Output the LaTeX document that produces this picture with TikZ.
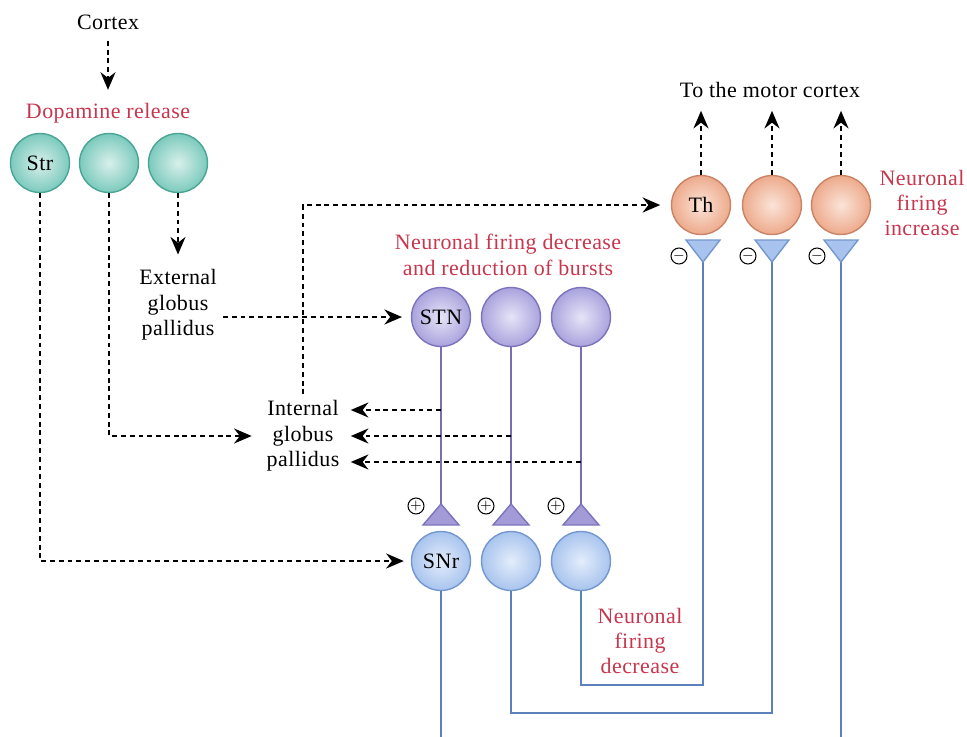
\documentclass[tikz,border=0pt]{standalone}
\usepackage{fontspec}
\setmainfont[LetterSpace=2]{Liberation Serif}
\usetikzlibrary{arrows.meta}

\definecolor{redlab}{HTML}{C8364E}
\definecolor{strout}{HTML}{7CCABD}
\definecolor{strin}{HTML}{D8F0EB}
\definecolor{strline}{HTML}{4AA595}
\definecolor{thout}{HTML}{EDAA8C}
\definecolor{thin}{HTML}{FBE4D8}
\definecolor{thline}{HTML}{C98466}
\definecolor{stnout}{HTML}{A9A3DD}
\definecolor{stnin}{HTML}{E6E4F7}
\definecolor{stnline}{HTML}{7D72BC}
\definecolor{snrout}{HTML}{A8C4EE}
\definecolor{snrin}{HTML}{E4EDFB}
\definecolor{snrline}{HTML}{7497CF}
\definecolor{bluax}{HTML}{5C80BC}
\definecolor{purax}{HTML}{7C6DB3}

\tikzset{
  cell/.style={circle, minimum size=1.18cm, inner sep=0pt, line width=0.8pt},
  strcell/.style={cell, draw=strline, inner color=strin, outer color=strout},
  thcell/.style={cell, draw=thline, inner color=thin, outer color=thout},
  stncell/.style={cell, draw=stnline, inner color=stnin, outer color=stnout},
  snrcell/.style={cell, draw=snrline, inner color=snrin, outer color=snrout},
  flow/.style={line width=1.4pt, dash pattern=on 2.8pt off 2.2pt,
    -{Stealth[length=10pt,width=8.5pt]}},
  redtxt/.style={text=redlab, align=center},
  axonB/.style={draw=bluax, line width=1.3pt},
  axonP/.style={draw=purax, line width=1.3pt},
  plustri/.style={draw=stnline, fill=stnout!85!purax, line width=0.8pt},
  minustri/.style={draw=snrline, fill=snrout, line width=0.8pt},
  sign/.style={circle, draw, line width=0.6pt, minimum size=0.32cm, inner sep=0pt, font=\footnotesize},
}

\begin{document}
\begin{tikzpicture}[x=0.02cm, y=-0.02cm, font=\fontsize{12.5}{14.5}\selectfont]
  \useasboundingbox (0,0) rectangle (967,737);

  % striatum
  \node (cortex) at (108,22) {Cortex};
  \node[redtxt] (dopa) at (108,113) {Dopamine release};
  \node[strcell] (str1) at (40,163) {Str};
  \node[strcell] (str2) at (109,163) {};
  \node[strcell] (str3) at (178,163) {};

  \node[align=center] (gpe) at (178,305) {External\\globus\\pallidus};
  \node[align=center] (gpi) at (303,436) {Internal\\globus\\pallidus};

  % subthalamic nucleus
  \node[redtxt] (stnlab) at (508,255) {Neuronal firing decrease\\and reduction of bursts};
  \node[stncell] (stn1) at (441,317) {STN};
  \node[stncell] (stn2) at (511,317) {};
  \node[stncell] (stn3) at (581,317) {};

  % substantia nigra
  \node[snrcell] (snr1) at (441,561) {SNr};
  \node[snrcell] (snr2) at (511,561) {};
  \node[snrcell] (snr3) at (581,561) {};

  % thalamus
  \node (motor) at (770,90) {To the motor cortex};
  \node[thcell] (th1) at (701,205) {Th};
  \node[thcell] (th2) at (772,205) {};
  \node[thcell] (th3) at (841,205) {};
  \node[redtxt] (thlab) at (922,203) {Neuronal\\firing\\increase};
  \node[redtxt] (snrlab) at (640,641) {Neuronal\\firing\\decrease};

  % synapses
  \coordinate (pt1) at (441,504);
  \coordinate (pt2) at (511,504);
  \coordinate (pt3) at (581,504);
  \coordinate (mt1) at (703,262);
  \coordinate (mt2) at (772,262);
  \coordinate (mt3) at (841,262);
  \coordinate (bot1) at (441,737);
  \coordinate (bot3) at (841,737);

  \draw[axonP] (stn1.south) -- (pt1);
  \draw[axonP] (stn2.south) -- (pt2);
  \draw[axonP] (stn3.south) -- (pt3);
  \foreach \p in {pt1,pt2,pt3}
    \draw[plustri] (\p) -- ++(18,21) -- ++(-36,0) -- cycle;
  \node[sign] (plus1) at (416,506) {$+$};
  \node[sign] (plus2) at (486,506) {$+$};
  \node[sign] (plus3) at (556,506) {$+$};

  \draw[axonB] (snr1.south) -- (bot1);
  \draw[axonB] (snr2.south) |- (772,713) -- (mt2);
  \draw[axonB] (snr3.south) |- (703,685) -- (mt1);
  \draw[axonB] (mt3) -- (bot3);
  \foreach \m in {mt1,mt2,mt3}
    \draw[minustri] (\m) -- ++(-17,-22) -- ++(34,0) -- cycle;
  \node[sign] (minus1) at (679,256) {$-$};
  \node[sign] (minus2) at (748,256) {$-$};
  \node[sign] (minus3) at (817,256) {$-$};

  % dotted pathways
  \draw[flow, shorten <=3pt, shorten >=4pt] (cortex) -- (dopa);
  \draw[flow, shorten >=5pt] (str3.south) -- (gpe.north);
  \draw[flow, shorten >=5pt] (gpe.east |- stn1.west) -- (stn1.west);
  \draw[flow, shorten >=5pt] (str2.south) |- (gpi.west);
  \draw[flow, shorten >=4pt] (str1.south) |- (snr1.west);
  \draw[flow, shorten >=6pt] (gpi.north) |- (th1.west);
  \draw[flow, shorten >=3pt] (441,410) -- (gpi.east |- 0,410);
  \draw[flow, shorten >=3pt] (511,436) -- (gpi.east |- 0,436);
  \draw[flow, shorten >=3pt] (581,462) -- (gpi.east |- 0,462);
  \draw[flow] (th1.north) -- ++(0,-64);
  \draw[flow] (th2.north) -- ++(0,-64);
  \draw[flow] (th3.north) -- ++(0,-64);
\end{tikzpicture}
\end{document}
